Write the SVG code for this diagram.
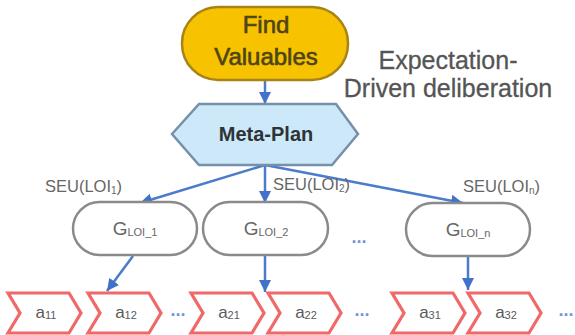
<svg xmlns="http://www.w3.org/2000/svg" width="575" height="335" viewBox="0 0 575 335">
  <style>
    .lbl { font-family: "Liberation Sans", Arial, sans-serif; }
    .goal { fill: #ffffff; stroke: #8a8a8a; stroke-width: 2.5; }
    .act { fill: #ffffff; stroke: #f06868; stroke-width: 3.2; stroke-linejoin: miter; }
    .edge { stroke: #4a7ccb; stroke-width: 2.5; fill: none; marker-end: url(#arrow); }
    .gtxt { font-size: 19px; fill: #666666; }
    .atxt { font-size: 17px; fill: #5a5a5a; }
    .seu { font-size: 16.5px; fill: #666666; }
    .dots { font-size: 18px; fill: #7294d8; font-weight: bold; }
  </style>
  <defs>
    <marker id="arrow" viewBox="0 0 12 12" refX="12" refY="6" markerWidth="12" markerHeight="12" markerUnits="userSpaceOnUse" orient="auto">
      <path d="M0,0 L12,6 L0,12 z" fill="#3f72c8"/>
    </marker>
    <path id="chev" d="M0,0 H61 L73,20 L61,40 H0 L12,20 Z"/>
  </defs>
  <rect width="575" height="335" fill="#ffffff"/>

  <!-- connectors -->
  <g id="connectors">
    <line class="edge" x1="265" y1="80" x2="265" y2="104"/>
    <line class="edge" x1="265" y1="165" x2="140" y2="203"/>
    <line class="edge" x1="265" y1="165" x2="265" y2="203"/>
    <line class="edge" x1="265" y1="165" x2="463" y2="203"/>
    <line class="edge" x1="133" y1="256" x2="107" y2="291"/>
    <line class="edge" x1="265" y1="256" x2="265" y2="292"/>
    <line class="edge" x1="468" y1="257" x2="468" y2="290"/>
  </g>

  <!-- top goal -->
  <g id="find-valuables">
    <rect x="182" y="7" width="166" height="73" rx="36" ry="36" fill="#f7c200" stroke="#a88418" stroke-width="2.5"/>
    <text class="lbl" x="266" y="33" text-anchor="middle" font-size="24" fill="#4e4418" stroke="#4e4418" stroke-width="0.6">Find</text>
    <text class="lbl" x="266" y="65" text-anchor="middle" font-size="24" fill="#4e4418" stroke="#4e4418" stroke-width="0.6">Valuables</text>
  </g>

  <g id="caption">
    <text class="lbl" x="448" y="69" text-anchor="middle" font-size="25" fill="#555555" stroke="#555555" stroke-width="0.3">Expectation-</text>
    <text class="lbl" x="448" y="97" text-anchor="middle" font-size="25" fill="#555555" stroke="#555555" stroke-width="0.3">Driven deliberation</text>
  </g>

  <!-- meta plan -->
  <g id="meta-plan">
    <polygon points="172,134 199,104 336,104 358,134 332,165 199,165" fill="#cde8f8" stroke="#7690ab" stroke-width="2.5"/>
    <text class="lbl" x="266" y="141" text-anchor="middle" font-size="20" font-weight="bold" fill="#2e3338">Meta-Plan</text>
  </g>

  <!-- expected utility labels -->
  <g id="seu-labels">
    <text class="lbl seu" x="45" y="192">SEU(LOI<tspan font-size="10" dy="2">1</tspan><tspan dy="-2">)</tspan></text>
    <text class="lbl seu" x="273" y="190">SEU(LOI<tspan font-size="10" dy="2">2</tspan><tspan dy="-2">)</tspan></text>
    <text class="lbl seu" x="463" y="192">SEU(LOI<tspan font-size="10" dy="2">n</tspan><tspan dy="-2">)</tspan></text>
  </g>

  <!-- goal nodes -->
  <g id="g-loi-1">
    <rect class="goal" x="73" y="202" width="124" height="53" rx="26.5"/>
    <text class="lbl gtxt" x="135" y="235" text-anchor="middle">G<tspan font-size="11" dy="1">LOI_1</tspan></text>
  </g>
  <g id="g-loi-2">
    <rect class="goal" x="203" y="202" width="125" height="53" rx="26.5"/>
    <text class="lbl gtxt" x="266" y="235" text-anchor="middle">G<tspan font-size="11" dy="1">LOI_2</tspan></text>
  </g>
  <g id="g-loi-n">
    <rect class="goal" x="406" y="203" width="124" height="53" rx="26.5"/>
    <text class="lbl gtxt" x="468" y="236" text-anchor="middle">G<tspan font-size="11" dy="1">LOI_n</tspan></text>
  </g>
  <text class="lbl dots" x="359" y="243" text-anchor="middle">...</text>

  <!-- action chevrons -->
  <g id="a11">
    <use href="#chev" class="act" x="8" y="293"/>
    <text class="lbl atxt" x="46" y="318" text-anchor="middle">a<tspan font-size="11" dy="1">11</tspan></text>
  </g>
  <g id="a12">
    <use href="#chev" class="act" x="88" y="293"/>
    <text class="lbl atxt" x="126" y="318" text-anchor="middle">a<tspan font-size="11" dy="1">12</tspan></text>
  </g>
  <g id="a21">
    <use href="#chev" class="act" x="191" y="293"/>
    <text class="lbl atxt" x="229" y="318" text-anchor="middle">a<tspan font-size="11" dy="1">21</tspan></text>
  </g>
  <g id="a22">
    <use href="#chev" class="act" x="268" y="293"/>
    <text class="lbl atxt" x="306" y="318" text-anchor="middle">a<tspan font-size="11" dy="1">22</tspan></text>
  </g>
  <g id="a31">
    <use href="#chev" class="act" x="392" y="293"/>
    <text class="lbl atxt" x="430" y="318" text-anchor="middle">a<tspan font-size="11" dy="1">31</tspan></text>
  </g>
  <g id="a32">
    <use href="#chev" class="act" x="468" y="293"/>
    <text class="lbl atxt" x="506" y="318" text-anchor="middle">a<tspan font-size="11" dy="1">32</tspan></text>
  </g>
  <text class="lbl dots" x="178" y="316" text-anchor="middle">...</text>
  <text class="lbl dots" x="362" y="316" text-anchor="middle">...</text>
  <text class="lbl dots" x="566" y="316" text-anchor="middle">...</text>
</svg>
